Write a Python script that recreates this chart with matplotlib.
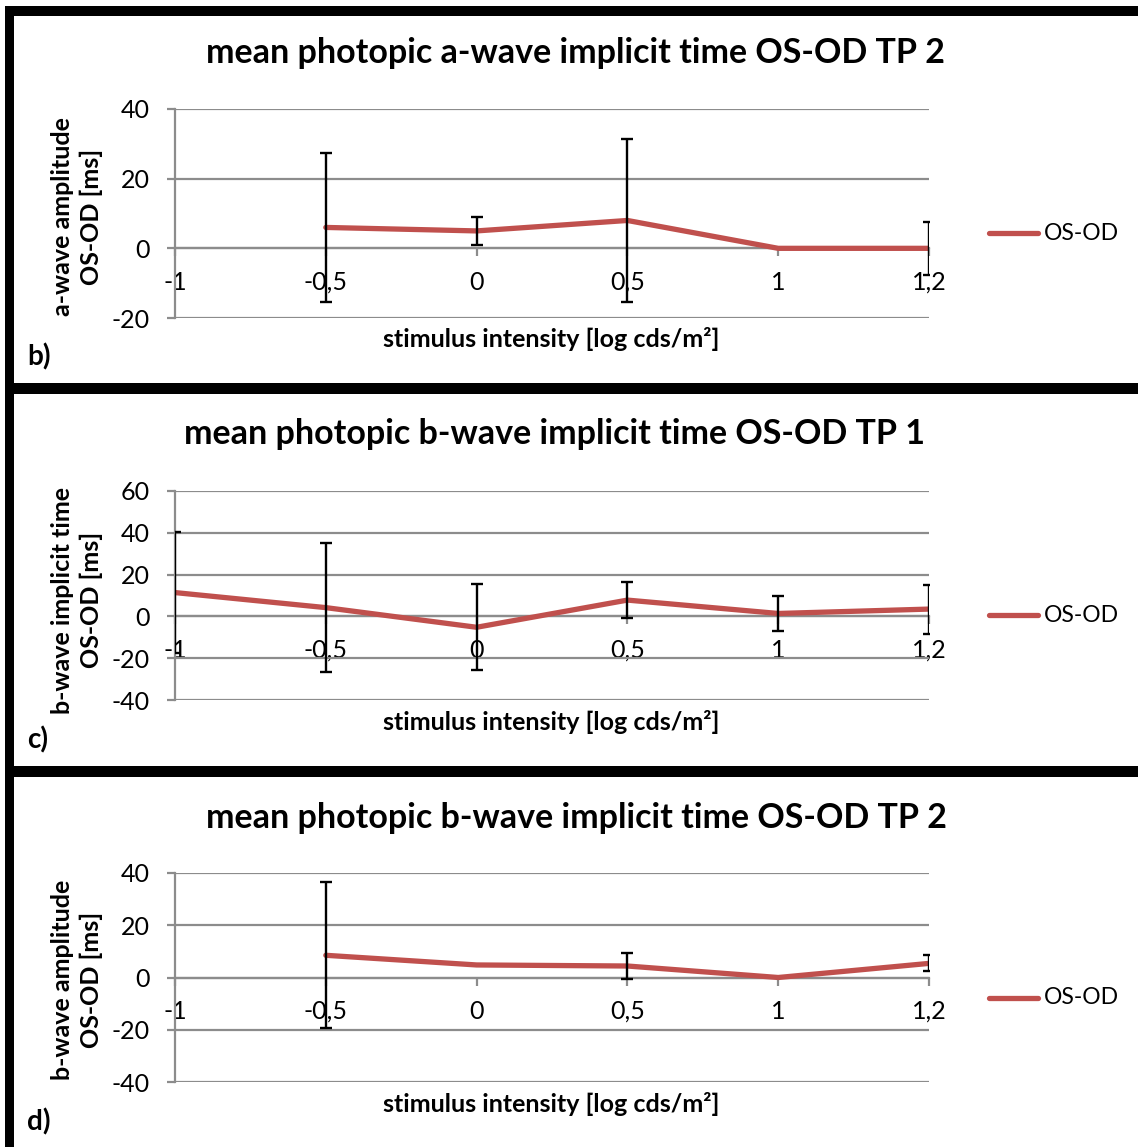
import matplotlib.pyplot as plt
from matplotlib.patches import Rectangle
import numpy as np

W, H = 1138, 1147
plt.rcParams['font.family'] = ['Lato', 'DejaVu Sans']
plt.rcParams['axes.unicode_minus'] = False

xlabels = ['-1', '-0,5', '0', '0,5', '1', '1,2']

# panel b) a-wave implicit time TP 2
vals_b = [np.nan, 6, 5, 8, 0, 0]
err_b = [np.nan, 21.5, 4, 23.5, np.nan, 7.7]
# panel c) b-wave implicit time TP 1
vals_c = [11.4, 4.2, -5.2, 7.8, 1.4, 3.5]
err_c = [28.8, 31, 20.6, 8.7, 8.2, 11.7]
# panel d) b-wave amplitude TP 2
vals_d = [np.nan, 8.5, 4.8, 4.4, 0, 5.4]
err_d = [np.nan, 28, np.nan, 4.9, np.nan, 3.1]

titles = ['mean photopic a-wave implicit time OS-OD TP 2',
          'mean photopic b-wave implicit time OS-OD TP 1',
          'mean photopic b-wave implicit time OS-OD TP 2']
ylabels = ['a-wave amplitude\nOS-OD [ms]',
           'b-wave implicit time\nOS-OD [ms]',
           'b-wave amplitude\nOS-OD [ms]']
letters = ['b)', 'c)', 'd)']
yranges = [(-20, 40), (-40, 60), (-40, 40)]

red = '#C0504D'
grid = '#8C8C8C'

fig = plt.figure(figsize=(W / 100, H / 100), dpi=100)

def fx(px):
    return px / W

def fy(py):
    return 1 - py / H

# axes: top/bottom pixel rows of plot area
boxes = [(109, 318), (491, 700), (873, 1082)]
title_y = [53, 434, 818]
title_x = [576, 554, 576]
ylab_y = [217, 600, 980]
xlab_y = [339, 722, 1104]
letter_y = [357, 740, 1122]
leg_y = [233, 615, 998]
data = [(vals_b, err_b), (vals_c, err_c), (vals_d, err_d)]

x = np.arange(len(xlabels))
for i in range(3):
    top, bot = boxes[i]
    ax = fig.add_axes([fx(175), fy(bot), fx(929 - 175), (bot - top) / H])
    v, e = data[i]
    ax.plot(x, v, color=red, lw=3.8, solid_capstyle='round', zorder=3)
    ax.errorbar(x, v, yerr=e, fmt='none', ecolor='black', elinewidth=1.7,
                capsize=4.5, capthick=1.7, zorder=4)
    lo, hi = yranges[i]
    ax.set_ylim(lo, hi)
    ax.set_yticks(np.arange(lo, hi + 1, 20))
    ax.set_xlim(0, 5)
    ax.set_xticks(x)
    ax.set_xticklabels(xlabels)
    ax.grid(axis='y', color=grid, lw=1.6)
    ax.set_axisbelow(True)
    for s in ['top', 'right']:
        ax.spines[s].set_visible(False)
    ax.spines['bottom'].set_position(('data', 0))
    ax.spines['bottom'].set_color(grid)
    ax.spines['bottom'].set_linewidth(1.6)
    ax.spines['left'].set_color(grid)
    ax.spines['left'].set_linewidth(1.6)
    ax.tick_params(axis='y', length=6, width=1.6, color=grid, labelsize=18, pad=12)
    ax.tick_params(axis='x', length=6, width=1.6, color=grid, labelsize=18, pad=10)

    fig.text(fx(title_x[i]), fy(title_y[i]), titles[i], ha='center', va='center',
             fontsize=24.5, fontweight='bold')
    fig.text(fx(77), fy(ylab_y[i]), ylabels[i], ha='center', va='center',
             rotation=90, fontsize=18, fontweight='bold', multialignment='center',
             linespacing=1.3)
    fig.text(fx(551), fy(xlab_y[i]), 'stimulus intensity [log cds/m²]', ha='center',
             va='center', fontsize=18, fontweight='bold')
    fig.text(fx(27), fy(letter_y[i]), letters[i], ha='left', va='center',
             fontsize=20, fontweight='bold')
    fig.add_artist(plt.Line2D([fx(989), fx(1038)], [fy(leg_y[i])] * 2, color=red,
                              lw=3.8, solid_capstyle='round'))
    fig.text(fx(1044), fy(leg_y[i]), 'OS-OD', ha='left', va='center', fontsize=16.5)

# thick black frame lines
def bar(x0, y0, x1, y1):
    fig.add_artist(Rectangle((fx(x0), fy(y1)), fx(x1 - x0), (y1 - y0) / H,
                             transform=fig.transFigure, color='black', lw=0))

bar(5, 6, W, 16)
bar(5, 6, 14, H)
bar(5, 383, W, 394)
bar(5, 766, W, 777)

fig.savefig('out.png', dpi=100)
